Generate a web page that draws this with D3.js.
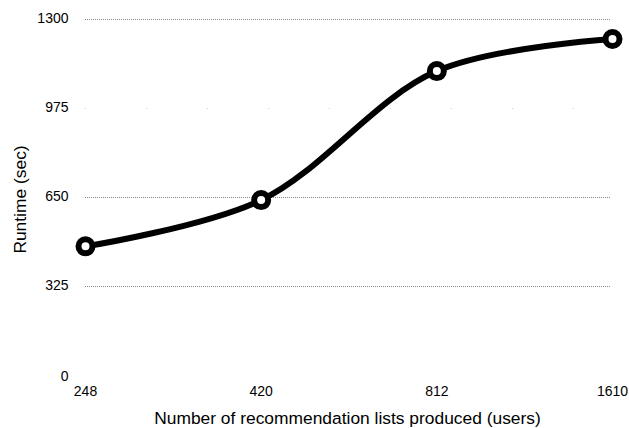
<!DOCTYPE html>
<html>
<head>
<meta charset="utf-8">
<script src="https://cdn.jsdelivr.net/npm/d3@7"></script>
<style>
  body { margin: 0; background: #fff; }
  svg text { font-family: "Liberation Sans", Arial, Helvetica, sans-serif; fill: #000; }
</style>
</head>
<body>
<div id="chart"></div>
<script>
// Chart data
const categories = ["248", "420", "812", "1610"];
const runtimes = [468, 637, 1108, 1225];
const yTicks = [0, 325, 650, 975, 1300];

const width = 629, height = 428;
const margin = { top: 18.5, right: 16.5, bottom: 53.5, left: 85.5 };

const svg = d3.select("#chart")
    .append("svg")
    .attr("width", width)
    .attr("height", height);

const x = d3.scalePoint()
    .domain(categories)
    .range([margin.left, width - margin.right]);

const y = d3.scaleLinear()
    .domain([0, 1300])
    .range([height - margin.bottom, margin.top]);

// Dotted gridlines (0 has none, 975 is barely visible)
svg.append("g")
    .selectAll("line")
    .data(yTicks.filter(d => d > 0))
    .join("line")
    .attr("x1", 85)
    .attr("x2", 611)
    .attr("y1", d => Math.round(y(d)) + 0.5)
    .attr("y2", d => Math.round(y(d)) + 0.5)
    .attr("stroke", d => d === 975 ? "#d0d0d0" : "#8a8a8a")
    .attr("stroke-width", 1)
    .attr("stroke-dasharray", d => d === 975 ? "1,60" : "1,1");

// Y tick labels
svg.append("g")
    .selectAll("text")
    .data(yTicks)
    .join("text")
    .attr("x", 68.5)
    .attr("y", d => y(d) + (d === 0 ? 2 : 0))
    .attr("dy", "0.35em")
    .attr("text-anchor", "end")
    .style("font-size", "14px")
    .text(d => d);

// X tick labels
svg.append("g")
    .selectAll("text")
    .data(categories)
    .join("text")
    .attr("x", d => x(d))
    .attr("y", 391)
    .attr("dy", "0.35em")
    .attr("text-anchor", "middle")
    .style("font-size", "14px")
    .text(d => d);

// Axis titles
svg.append("text")
    .attr("x", 347.5)
    .attr("y", 418)
    .attr("dy", "0.35em")
    .attr("text-anchor", "middle")
    .style("font-size", "17.4px")
    .text("Number of recommendation lists produced (users)");

svg.append("text")
    .attr("transform", `translate(20,199.5) rotate(-90)`)
    .attr("dy", "0.35em")
    .attr("text-anchor", "middle")
    .style("font-size", "17.4px")
    .text("Runtime (sec)");

// Line
const pts = categories.map((c, i) => ({ c, v: runtimes[i] }));
const line = d3.line()
    .x(d => x(d.c))
    .y(d => y(d.v))
    .curve(d3.curveCatmullRom.alpha(0.5));

svg.append("path")
    .datum(pts)
    .attr("d", line)
    .attr("fill", "none")
    .attr("stroke", "#000")
    .attr("stroke-width", 6)
    .attr("stroke-linejoin", "round");

// Markers
svg.append("g")
    .selectAll("circle")
    .data(pts)
    .join("circle")
    .attr("cx", d => x(d.c))
    .attr("cy", d => y(d.v))
    .attr("r", 7)
    .attr("fill", "#fff")
    .attr("stroke", "#000")
    .attr("stroke-width", 6);
</script>
</body>
</html>
